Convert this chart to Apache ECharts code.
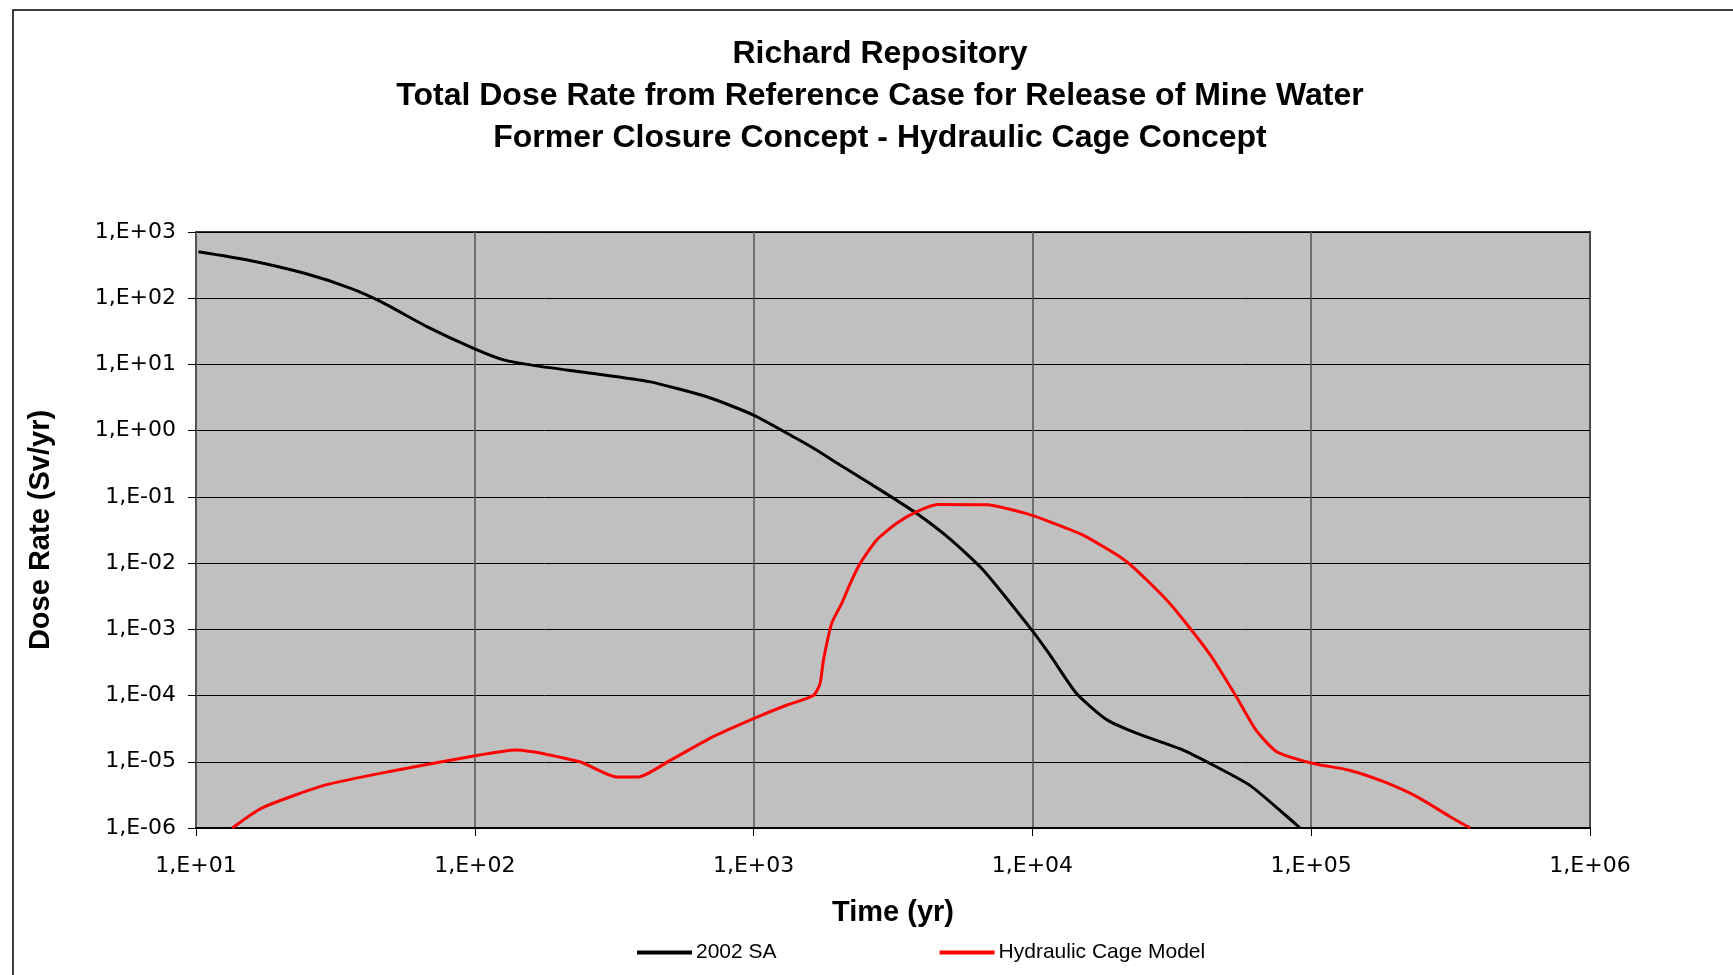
<!DOCTYPE html>
<html>
<head>
<meta charset="utf-8">
<script src="https://cdn.jsdelivr.net/npm/echarts@6/dist/echarts.min.js"></script>
<style>
  html, body { margin: 0; padding: 0; background: #fff; }
  #main { width: 1733px; height: 975px; }
</style>
</head>
<body>
<div id="main"></div>
<script>
// values (time in yr, dose in Sv/yr)
var timeSA = [10.2, 15.3, 24.5, 35.9, 46.2, 67.6, 99, 127, 164, 263, 422, 680, 1000, 1410, 1680, 2050, 2920, 3850, 5070, 6670, 9940, 11560, 14400, 18500, 23600, 34700, 45700, 60300, 79400, 91200];
var doseSA = [504, 378, 238, 141, 88, 37, 17.5, 11.7, 9.6, 7.35, 5.5, 3.25, 1.72, 0.78, 0.51, 0.30, 0.119, 0.056, 0.023, 0.0078, 0.00098, 0.00041, 0.000107, 4.3e-5, 2.7e-5, 1.5e-5, 8.4e-6, 4.4e-6, 1.67e-6, 1e-6];

var timeHC = [13.5, 17.2, 28.8, 50, 97, 141, 238, 323, 386, 502, 716, 1000, 1318, 1637, 1730, 1780, 1905, 2070, 2220, 2410, 2760, 3260, 3850, 4580, 6900, 9800, 11560, 15200, 21800, 31000, 43300, 53900, 63400, 75200, 100000, 138000, 182000, 240000, 316000, 372000];
var doseHC = [1e-6, 2e-6, 4.4e-6, 7.2e-6, 1.2e-5, 1.5e-5, 1e-5, 5.9e-6, 5.9e-6, 1.05e-5, 2.4e-5, 4.5e-5, 7.2e-5, 1e-4, 1.5e-4, 3.4e-4, 1.23e-3, 2.46e-3, 4.9e-3, 9.9e-3, 0.0222, 0.040, 0.060, 0.077, 0.076, 0.054, 0.042, 0.0265, 0.0105, 0.0025, 4.2e-4, 9.6e-5, 3e-5, 1.42e-5, 9.6e-6, 7.4e-6, 5e-6, 2.95e-6, 1.47e-6, 1e-6];

var seriesNames = ['2002 SA', 'Hydraulic Cage Model'];
var titleLines = ['Richard Repository', 'Total Dose Rate from Reference Case for Release of Mine Water', 'Former Closure Concept - Hydraulic Cage Concept'];

function pairs(xs, ys) {
    var out = [];
    for (var i = 0; i < xs.length; i++) {
        out.push([xs[i], ys[i]]);
    }
    return out;
}

// Excel style "1,E+03"
function sciLabel(v) {
    var e = Math.round(Math.log(v) / Math.LN10);
    var a = Math.abs(e);
    return '1,E' + (e < 0 ? '-' : '+') + (a < 10 ? '0' + a : a);
}

var myChart = echarts.init(document.getElementById('main'));

var option = {
    backgroundColor: '#fff',
    animation: false,
    title: {
        text: titleLines.join('\n'),
        left: 875,
        top: 28,
        textAlign: 'center',
        textStyle: {
            fontFamily: 'Liberation Sans, Arial, sans-serif',
            fontSize: 32,
            fontWeight: 'bold',
            color: '#000',
            lineHeight: 42
        }
    },
    legend: {
        left: 632,
        top: 937,
        icon: 'rect',
        itemWidth: 55,
        itemHeight: 4,
        itemGap: 163,
        textStyle: {
            fontFamily: 'Liberation Sans, Arial, sans-serif',
            fontSize: 21,
            color: '#000',
            padding: [0, 0, 0, -1]
        },
        data: seriesNames
    },
    graphic: [{
        type: 'rect',
        shape: { x: 13, y: 10, width: 1800, height: 1000 },
        style: { fill: 'none', stroke: '#000', lineWidth: 1.5 },
        silent: true
    }],
    grid: {
        left: 196,
        right: 143,
        top: 232,
        bottom: 147,
        show: true,
        backgroundColor: '#c0c0c0',
        borderColor: '#333',
        borderWidth: 2
    },
    xAxis: {
        type: 'log',
        logBase: 10,
        min: 10,
        max: 1e6,
        interval: 1,
        name: 'Time (yr)',
        nameLocation: 'middle',
        nameGap: 70,
        nameTextStyle: {
            fontFamily: 'Liberation Sans, Arial, sans-serif',
            fontSize: 29,
            fontWeight: 'bold',
            color: '#000'
        },
        axisLine: { show: true, lineStyle: { color: '#000', width: 2 } },
        axisTick: { show: true, inside: false, length: 8, lineStyle: { color: '#000' } },
        minorTick: { show: false },
        axisLabel: {
            margin: 27,
            fontFamily: 'DejaVu Sans, sans-serif',
            fontSize: 22,
            color: '#000',
            formatter: sciLabel
        },
        splitLine: { show: true, lineStyle: { color: '#555', width: 1.5 } }
    },
    yAxis: {
        type: 'log',
        logBase: 10,
        min: 1e-6,
        max: 1e3,
        interval: 1,
        name: 'Dose Rate (Sv/yr)',
        nameLocation: 'middle',
        nameGap: 141,
        nameTextStyle: {
            fontFamily: 'Liberation Sans, Arial, sans-serif',
            fontSize: 29,
            fontWeight: 'bold',
            color: '#000'
        },
        axisLine: { show: true, lineStyle: { color: '#555', width: 2 } },
        axisTick: { show: true, inside: false, length: 8, lineStyle: { color: '#000' } },
        minorTick: { show: false },
        axisLabel: {
            margin: 20,
            fontFamily: 'DejaVu Sans, sans-serif',
            fontSize: 22,
            color: '#000',
            formatter: sciLabel
        },
        splitLine: { show: true, lineStyle: { color: '#000', width: 1 } }
    },
    series: [
        {
            name: seriesNames[0],
            type: 'line',
            showSymbol: false,
            smooth: 0.2,
            color: '#000',
            lineStyle: { color: '#000', width: 3 },
            data: pairs(timeSA, doseSA)
        },
        {
            name: seriesNames[1],
            type: 'line',
            showSymbol: false,
            smooth: 0.2,
            color: '#ff0000',
            lineStyle: { color: '#ff0000', width: 3 },
            data: pairs(timeHC, doseHC)
        }
    ]
};

myChart.setOption(option);
</script>
</body>
</html>
